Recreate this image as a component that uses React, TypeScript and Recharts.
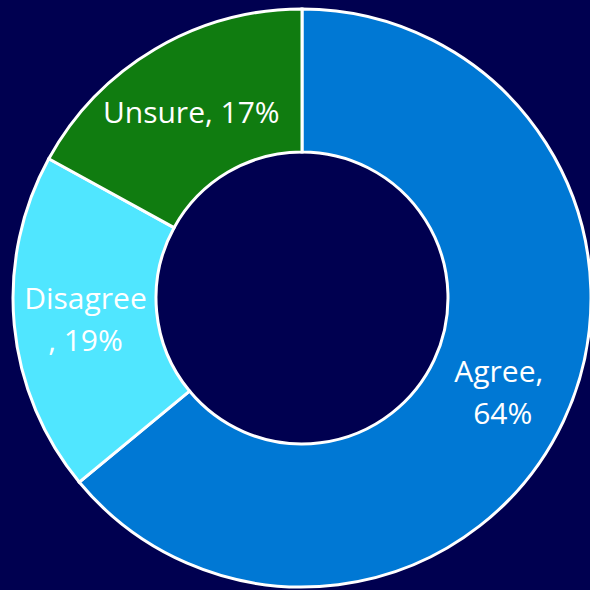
import React from "react";
import { PieChart, Pie, Cell } from "recharts";

const categories = ["Agree", "Disagree", "Unsure"];
const values = [64, 19, 17];
const colors = ["#0078D4", "#50E6FF", "#107C10"];
// character index at which each label wraps onto a second line (null = single line)
const labelBreaks: (number | null)[] = [6, 8, null];

const data = categories.map((name, i) => ({ name, value: values[i] }));

const RADIAN = Math.PI / 180;

const renderLabel = (props: any) => {
  const { cx, cy, midAngle, innerRadius, outerRadius, index } = props;
  const r = (innerRadius + outerRadius) / 2;
  const x = cx + r * Math.cos(-midAngle * RADIAN);
  const y = cy + r * Math.sin(-midAngle * RADIAN);
  const text = `${categories[index]}, ${values[index]}%`;
  const br = labelBreaks[index];
  const lines = br == null ? [text] : [text.slice(0, br).trim(), text.slice(br)];
  const lh = 42;
  const startY = y - ((lines.length - 1) * lh) / 2;
  return (
    <text
      x={x}
      y={startY}
      fill="#ffffff"
      textAnchor="middle"
      dominantBaseline="central"
      fontFamily="'Open Sans', sans-serif"
      fontSize={30}
    >
      {lines.map((l, i) => (
        <tspan key={i} x={x} y={startY + i * lh}>
          {l}
        </tspan>
      ))}
    </text>
  );
};

export default function App() {
  return (
    <div
      style={{
        position: "fixed",
        left: 0,
        top: 0,
        width: 590,
        height: 590,
        background: "#000050",
        overflow: "hidden",
      }}
    >
      <PieChart width={590} height={590} margin={{ top: 0, right: 0, bottom: 0, left: 0 }}>
        <Pie
          data={data}
          dataKey="value"
          nameKey="name"
          cx={302}
          cy={298}
          innerRadius={146}
          outerRadius={289}
          startAngle={90}
          endAngle={-270}
          stroke="#ffffff"
          strokeWidth={3}
          label={renderLabel}
          labelLine={false}
          isAnimationActive={false}
        >
          {data.map((d, i) => (
            <Cell key={d.name} fill={colors[i]} />
          ))}
        </Pie>
      </PieChart>
    </div>
  );
}
